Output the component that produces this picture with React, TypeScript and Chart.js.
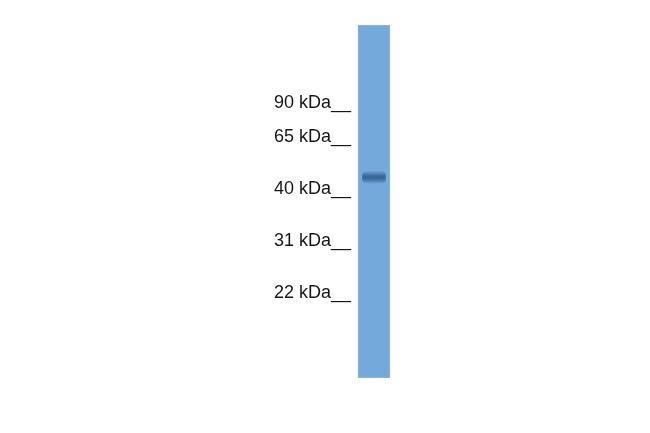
import { useEffect, useRef } from "react";
import { Chart, registerables } from "chart.js";

Chart.register(...registerables);

// marker ladder, positions in % of lane length (0 = well, 100 = bottom)
const markerLabels = ["90 kDa__", "65 kDa__", "40 kDa__", "31 kDa__", "22 kDa__"];
const markerPos = [22.1, 31.7, 46.6, 61.3, 75.8];
const lanes = ["sample"];
const laneRange: [number, number][] = [[0, 100]];
const bandRange: [number, number][] = [[41.3, 45.0]];

const LANE = "#74a9dc";
const BAND = "#30608f";

export default function App() {
  const ref = useRef<HTMLCanvasElement>(null);
  const chartRef = useRef<Chart | null>(null);

  useEffect(() => {
    document.body.style.margin = "0";
    if (!ref.current) return;
    chartRef.current?.destroy();
    chartRef.current = new Chart(ref.current, {
      type: "bar",
      data: {
        labels: lanes,
        datasets: [
          {
            label: "lane",
            data: laneRange as any,
            backgroundColor: LANE,
            borderColor: "#8cb8e2",
            borderWidth: 1,
            borderSkipped: false,
            barThickness: 32,
            grouped: false,
            order: 2,
          },
          {
            label: "band",
            data: bandRange as any,
            backgroundColor: (ctx: any) => {
              const { chart } = ctx;
              const y = chart.scales.y;
              if (!chart.chartArea || !y) return BAND;
              const r = bandRange[0];
              const top = y.getPixelForValue(r[0]);
              const bot = y.getPixelForValue(r[1]);
              if (!isFinite(top) || !isFinite(bot)) return BAND;
              const g = chart.ctx.createLinearGradient(0, top, 0, bot);
              g.addColorStop(0, "rgba(48,96,143,0)");
              g.addColorStop(0.3, "rgba(48,96,143,0.7)");
              g.addColorStop(0.5, "rgba(48,96,143,0.95)");
              g.addColorStop(0.7, "rgba(48,96,143,0.7)");
              g.addColorStop(1, "rgba(48,96,143,0)");
              return g;
            },
            borderWidth: 0,
            borderRadius: 5,
            borderSkipped: false,
            barThickness: 23,
            grouped: false,
            order: 1,
          },
        ],
      },
      options: {
        responsive: false,
        animation: false,
        layout: { padding: { left: 262, right: 254, top: 25, bottom: 55 } },
        plugins: { legend: { display: false }, tooltip: { enabled: false } },
        scales: {
          x: { display: false },
          y: {
            min: 0,
            max: 100,
            reverse: true,
            border: { display: false },
            grid: { display: false, drawTicks: false },
            afterFit: (s: any) => { s.width = 90; },
            afterBuildTicks: (s: any) => {
              s.ticks = markerPos.map((v) => ({ value: v }));
            },
            ticks: {
              padding: 1,
              color: "#161616",
              font: { family: "'Liberation Sans', Arial, sans-serif", size: 18 },
              callback: (v: any) => {
                const i = markerPos.indexOf(Number(v));
                return i >= 0 ? markerLabels[i] : "";
              },
            },
          },
        },
      },
    });
    return () => { chartRef.current?.destroy(); };
  }, []);

  return (
    <div style={{ width: 650, height: 433, background: "#fff" }}>
      <canvas ref={ref} width={650} height={433} />
    </div>
  );
}
